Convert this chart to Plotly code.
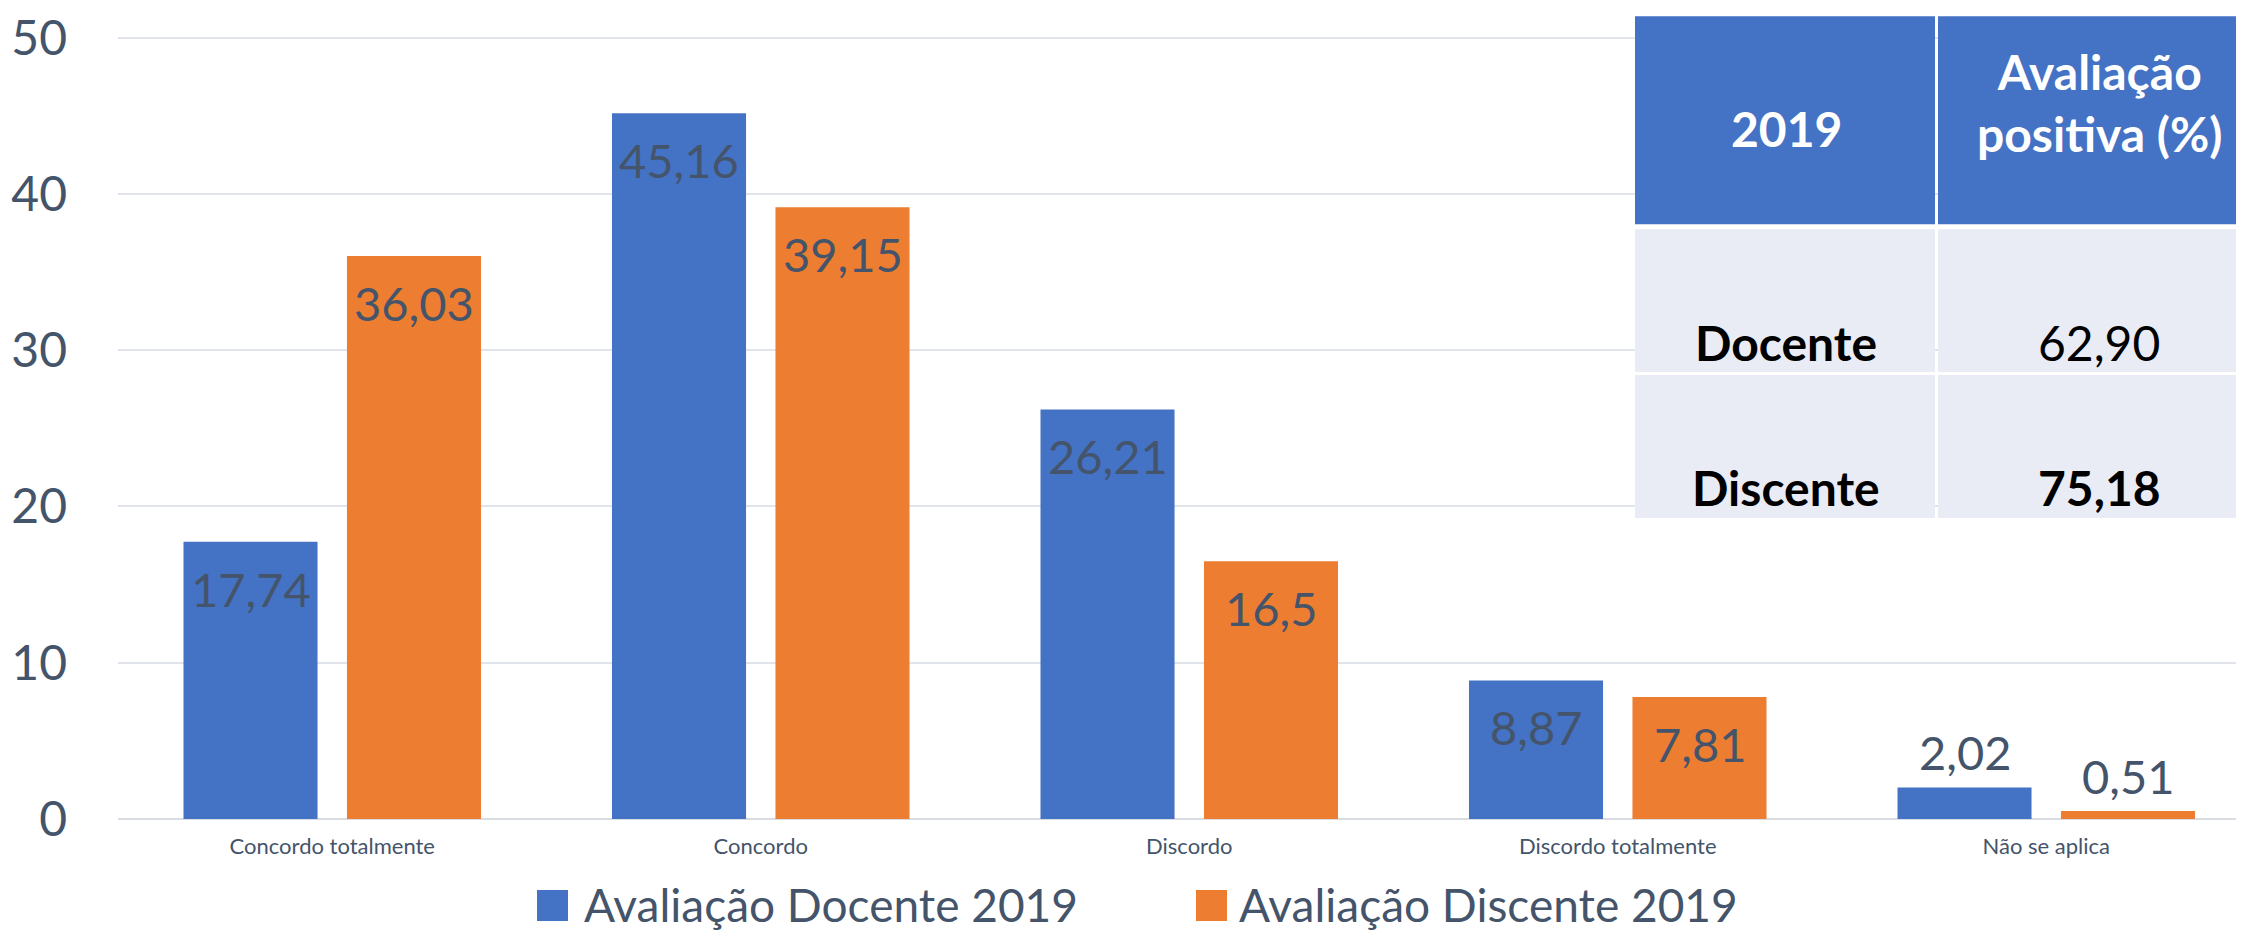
import plotly.graph_objects as go

# ---------------- data ----------------
categories = ["Concordo totalmente", "Concordo", "Discordo", "Discordo totalmente", "Não se aplica"]
docente = [17.74, 45.16, 26.21, 8.87, 2.02]
discente = [36.03, 39.15, 16.5, 7.81, 0.51]
series_names = ["Avaliação Docente 2019", "Avaliação Discente 2019"]
y_ticks = [0, 10, 20, 30, 40, 50]

table_header = ["2019", "Avaliação<br>positiva (%)"]
table_rows = ["Docente", "Discente"]
table_values = ["62,90", "75,18"]
table_value_bold = [False, True]

# ---------------- style ----------------
# the page body has an 8px margin; the figure is sized/offset to compensate
OFF = 8
W, H = 2244 - 2 * OFF, 946 - 2 * OFF
Y_TOP = 50.3
PX_PER_UNIT = (819 - 37.5) / 50
L, R, B = 118, 2244 - OFF, 819           # plot area in page pixels
T = B - Y_TOP * PX_PER_UNIT
BLUE = "#4472C4"
ORANGE = "#ED7D31"
TXT = "#44546A"
FONT = "Lato"


def fmt(v):
    s = f"{v:.2f}"
    if s.endswith("0"):
        s = s[:-1]
    return s.replace(".", ",")


def px_x(x):
    return (x - L) / (R - L)


def px_y(y):
    return (B - y) / (B - T)


fig = go.Figure()
fig.add_trace(go.Bar(x=categories, y=docente, name=series_names[0], marker=dict(color=BLUE, line=dict(width=0)),
                     showlegend=False, hoverinfo="x+y"))
fig.add_trace(go.Bar(x=categories, y=discente, name=series_names[1], marker=dict(color=ORANGE, line=dict(width=0)),
                     showlegend=False, hoverinfo="x+y"))

annotations = []
# value labels
for series, shift in ((docente, -81.75), (discente, 81.75)):
    for c, v in zip(categories, series):
        inside = v >= 5
        annotations.append(dict(
            x=c, y=v, xref="x", yref="y", text=fmt(v), showarrow=False,
            xshift=shift, yshift=-47 if inside else 35, yanchor="middle", xanchor="center",
            font=dict(family=FONT, size=47, color=TXT)))

# custom legend
legend_items = [(BLUE, series_names[0], 537, 582), (ORANGE, series_names[1], 1196, 1237)]
shapes = []
LEG_Y = 905
for col, name, sx, tx in legend_items:
    shapes.append(dict(type="rect", xref="paper", yref="paper",
                       x0=px_x(sx), x1=px_x(sx + 31), y0=px_y(LEG_Y + 16), y1=px_y(LEG_Y - 15),
                       fillcolor=col, line=dict(width=0), layer="above"))
    annotations.append(dict(x=px_x(tx), y=px_y(LEG_Y), xref="paper", yref="paper", text=name,
                            showarrow=False, xanchor="left", yanchor="middle",
                            font=dict(family=FONT, size=46, color=TXT)))

# table overlay
HEAD_FILL = "#4472C4"
BODY_FILL = "#E9EBF5"
col_x = [(1635, 1935), (1938, 2262)]
head_y = (16, 224)
row_y = [(229, 372), (375, 518)]
for (x0, x1) in col_x:
    shapes.append(dict(type="rect", xref="paper", yref="paper", x0=px_x(x0), x1=px_x(x1),
                       y0=px_y(head_y[1]), y1=px_y(head_y[0]), fillcolor=HEAD_FILL,
                       line=dict(width=0), layer="above"))
    for (y0, y1) in row_y:
        shapes.append(dict(type="rect", xref="paper", yref="paper", x0=px_x(x0), x1=px_x(x1),
                           y0=px_y(y1), y1=px_y(y0), fillcolor=BODY_FILL,
                           line=dict(width=0), layer="above"))

col_cx = [1786, 2099]
head_cy = [128, 102]
for cx, cy, txt in zip(col_cx, head_cy, table_header):
    annotations.append(dict(x=px_x(cx), y=px_y(cy), xref="paper", yref="paper", text=f"<b>{txt}</b>",
                            showarrow=False, xanchor="center", yanchor="middle",
                            font=dict(family=FONT, size=48, color="white")))
row_cy = [342, 487]
for cy, lab, val, bold in zip(row_cy, table_rows, table_values, table_value_bold):
    annotations.append(dict(x=px_x(col_cx[0]), y=px_y(cy), xref="paper", yref="paper", text=f"<b>{lab}</b>",
                            showarrow=False, xanchor="center", yanchor="middle",
                            font=dict(family=FONT, size=48, color="black")))
    annotations.append(dict(x=px_x(col_cx[1]), y=px_y(cy), xref="paper", yref="paper",
                            text=f"<b>{val}</b>" if bold else val,
                            showarrow=False, xanchor="center", yanchor="middle",
                            font=dict(family=FONT, size=48, color="black")))

fig.update_layout(
    width=W, height=H,
    margin=dict(l=L - OFF, r=(W + OFF) - R, t=T - OFF, b=(H + OFF) - B, pad=0),
    paper_bgcolor="white", plot_bgcolor="white",
    barmode="group", bargap=0.237, bargroupgap=0.18,
    showlegend=False,
    annotations=annotations, shapes=shapes,
    font=dict(family=FONT, color=TXT),
)
x_right = (R - L) / 428.5 - 0.5
fig.update_xaxes(range=[-0.5, x_right], showgrid=False, showline=False, zeroline=False, ticks="",
                 tickfont=dict(family=FONT, size=22, color=TXT), ticklabelstandoff=12, fixedrange=True)
fig.update_yaxes(range=[0, Y_TOP], tickvals=y_ticks, showgrid=True, gridcolor="#E1E4EA", gridwidth=2,
                 zeroline=True, zerolinecolor="#D9DCE3", zerolinewidth=2, showline=False, ticks="",
                 tickfont=dict(family=FONT, size=48, color=TXT), ticklabelstandoff=50,
                 ticklabeloverflow="allow", fixedrange=True)

fig.write_html("out.html")
